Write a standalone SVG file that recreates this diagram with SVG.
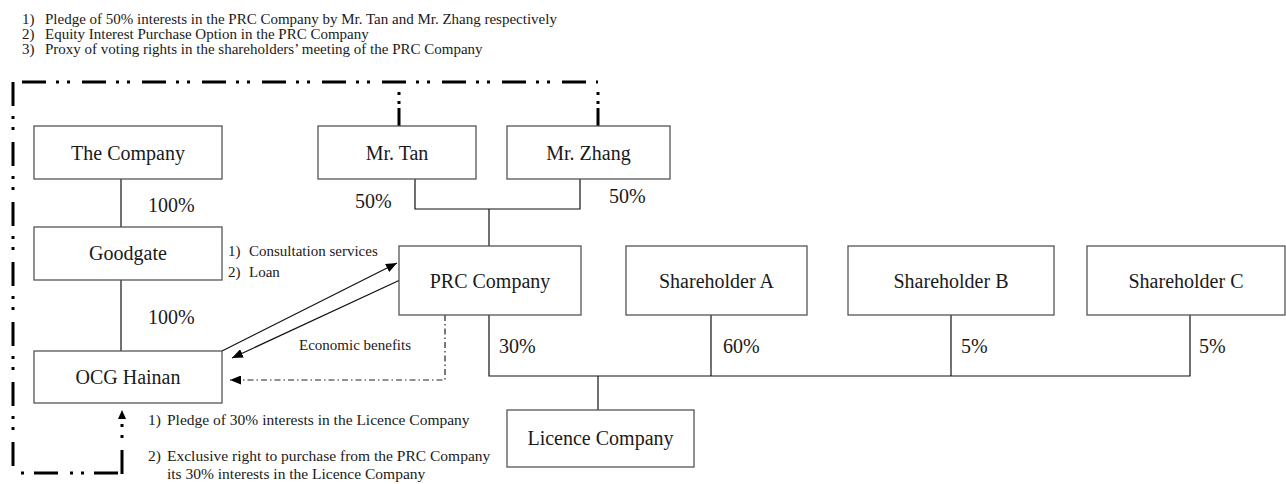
<svg xmlns="http://www.w3.org/2000/svg" width="1286" height="484" viewBox="0 0 1286 484">
<defs>
<style>
.box{fill:#fff;stroke:#555;stroke-width:1.3}
.bt{font-family:"Liberation Serif","Times New Roman",serif;font-size:20px;fill:#1a1a1a;text-anchor:middle}
.pc{font-family:"Liberation Serif","Times New Roman",serif;font-size:20px;fill:#1a1a1a}
.sm{font-family:"Liberation Serif","Times New Roman",serif;font-size:15px;fill:#1a1a1a}
.sb{font-family:"Liberation Serif","Times New Roman",serif;font-size:15.5px;fill:#1a1a1a}
.ln{fill:none;stroke:#111;stroke-width:1.2}
.thick{fill:none;stroke:#000;stroke-width:3;stroke-dasharray:24 10 3 8 3 12}
.tv{fill:none;stroke:#000;stroke-width:3;stroke-dasharray:18 4 3 6 3 10}
.dd{fill:none;stroke:#222;stroke-width:1.2;stroke-dasharray:6 3 1.5 3}
</style>
<marker id="ah" viewBox="0 0 11 9" refX="11" refY="4.5" markerWidth="11" markerHeight="9" markerUnits="userSpaceOnUse" orient="auto">
<path d="M0,0 L11,4.5 L0,9 Z" fill="#000"/>
</marker>
</defs>
<rect width="1286" height="484" fill="#fff"/>

<g id="header">
<text class="sm" x="22" y="24">1)</text><text class="sm" x="45" y="24">Pledge of 50% interests in the PRC Company by Mr. Tan and Mr. Zhang respectively</text>
<text class="sm" x="22" y="39">2)</text><text class="sm" x="45" y="39">Equity Interest Purchase Option in the PRC Company</text>
<text class="sm" x="22" y="54">3)</text><text class="sm" x="45" y="54">Proxy of voting rights in the shareholders’ meeting of the PRC Company</text>
</g>

<g id="connectors">
<path class="ln" d="M121,179 V227"/>
<path class="ln" d="M121,280 V351"/>
<path class="ln" d="M415,179 V209 H580 V179"/>
<path class="ln" d="M489,209 V246"/>
<path class="ln" d="M489,315 V376 H1190 V315"/>
<path class="ln" d="M711,315 V376"/>
<path class="ln" d="M951,315 V376"/>
<path class="ln" d="M598,376 V410"/>
<path class="ln" d="M222,351 L397,263" marker-end="url(#ah)"/>
<path class="ln" d="M400,280 L232,358" marker-end="url(#ah)"/>
<path class="dd" d="M445,315 V380 H230" marker-end="url(#ah)"/>
<path class="thick" d="M22,82 H598"/>
<path class="tv" d="M598,126 V82"/>
<path class="tv" d="M399,126 V82"/>
<path class="thick" d="M13,82 V473"/>
<path class="thick" d="M122,473 H13" stroke-dashoffset="56"/>
<path class="thick" d="M122,418 V474.5" stroke-dashoffset="28"/>
<path d="M118,419 L122,410 L126,419 Z" fill="#000"/>
</g>

<g id="n-thecompany"><rect class="box" x="34" y="126" width="188" height="53"/><text class="bt" x="128" y="160">The Company</text></g>
<g id="n-goodgate"><rect class="box" x="34" y="227" width="188" height="53"/><text class="bt" x="128" y="260">Goodgate</text></g>
<g id="n-ocg"><rect class="box" x="34" y="351" width="188" height="52"/><text class="bt" x="128" y="384">OCG Hainan</text></g>
<g id="n-tan"><rect class="box" x="318" y="126" width="158" height="53"/><text class="bt" x="397" y="160">Mr. Tan</text></g>
<g id="n-zhang"><rect class="box" x="507" y="126" width="163" height="53"/><text class="bt" x="588.5" y="160">Mr. Zhang</text></g>
<g id="n-prc"><rect class="box" x="399" y="246" width="182" height="69"/><text class="bt" x="490" y="288">PRC Company</text></g>
<g id="n-sha"><rect class="box" x="626" y="246" width="181" height="69"/><text class="bt" x="716.5" y="288">Shareholder A</text></g>
<g id="n-shb"><rect class="box" x="848" y="246" width="206" height="69"/><text class="bt" x="951" y="288">Shareholder B</text></g>
<g id="n-shc"><rect class="box" x="1087" y="246" width="198" height="69"/><text class="bt" x="1186" y="288">Shareholder C</text></g>
<g id="n-licence"><rect class="box" x="507" y="410" width="187" height="57"/><text class="bt" x="600.5" y="445">Licence Company</text></g>

<g id="labels">
<text class="pc" x="148" y="212">100%</text>
<text class="pc" x="148" y="324">100%</text>
<text class="pc" x="355" y="208">50%</text>
<text class="pc" x="609" y="203">50%</text>
<text class="pc" x="499" y="353">30%</text>
<text class="pc" x="723" y="353">60%</text>
<text class="pc" x="961" y="353">5%</text>
<text class="pc" x="1199" y="353">5%</text>
<text class="sm" x="228" y="256">1)</text><text class="sm" x="249" y="256">Consultation services</text>
<text class="sm" x="228" y="277">2)</text><text class="sm" x="249" y="277">Loan</text>
<text class="sm" x="299" y="350">Economic benefits</text>
<text class="sb" x="148" y="425">1)</text><text class="sb" x="167" y="425">Pledge of 30% interests in the Licence Company</text>
<text class="sb" x="148" y="461">2)</text><text class="sb" x="167" y="461">Exclusive right to purchase from the PRC Company</text>
<text class="sb" x="167" y="479">its 30% interests in the Licence Company</text>
</g>
</svg>
